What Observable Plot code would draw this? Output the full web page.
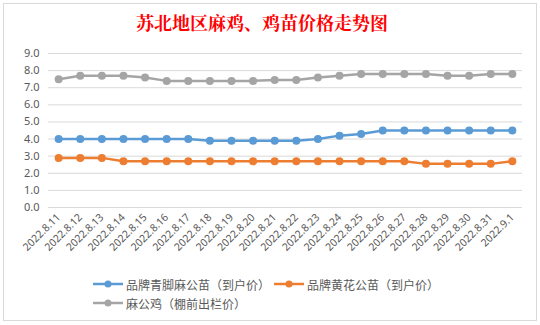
<!DOCTYPE html>
<html>
<head>
<meta charset="utf-8">
<script src="https://cdn.jsdelivr.net/npm/d3@7"></script>
<script src="https://cdn.jsdelivr.net/npm/@observablehq/plot@0.6"></script>
<style>
  html, body { margin: 0; padding: 0; background: #fff; }
  #wrap { position: relative; width: 540px; height: 325px; overflow: hidden; background: #fff; }
  #frame { position: absolute; left: 3px; top: 3px; width: 534px; height: 318px; border: 1px solid #d9d9d9; box-sizing: border-box; }
  #title { position: absolute; left: 0; width: 524px; top: 10px; text-align: center; color: #ff0000;
           font-family: "Noto Serif CJK SC", "Noto Sans CJK SC", serif; font-weight: bold; font-size: 18px; line-height: 24px; }
  #chart { position: absolute; left: 0; top: 0; }
  #legend { position: absolute; left: 93px; top: 275px; font-family: "Noto Sans CJK SC", sans-serif; font-size: 12px; color: #595959; }
  .item { position: absolute; white-space: nowrap; display: flex; align-items: center; height: 18px; }
  .item svg { margin-right: 3px; }
</style>
</head>
<body>
<div id="wrap">
  <div id="frame"></div>
  <div id="chart"></div>
  <div id="title">苏北地区麻鸡、鸡苗价格走势图</div>
  <div id="legend"></div>
</div>
<script>
const dates = ["2022.8.11","2022.8.12","2022.8.13","2022.8.14","2022.8.15","2022.8.16","2022.8.17","2022.8.18","2022.8.19","2022.8.20","2022.8.21","2022.8.22","2022.8.23","2022.8.24","2022.8.25","2022.8.26","2022.8.27","2022.8.28","2022.8.29","2022.8.30","2022.8.31","2022.9.1"];
const seriesNames = ["品牌青脚麻公苗（到户价）", "品牌黄花公苗（到户价）", "麻公鸡（棚前出栏价）"];
const blueValues   = [4.0,4.0,4.0,4.0,4.0,4.0,4.0,3.9,3.9,3.9,3.9,3.9,4.0,4.2,4.3,4.5,4.5,4.5,4.5,4.5,4.5,4.5];
const orangeValues = [2.9,2.9,2.9,2.7,2.7,2.7,2.7,2.7,2.7,2.7,2.7,2.7,2.7,2.7,2.7,2.7,2.7,2.55,2.55,2.55,2.55,2.7];
const grayValues   = [7.5,7.7,7.7,7.7,7.6,7.4,7.4,7.4,7.4,7.4,7.45,7.45,7.6,7.7,7.8,7.8,7.8,7.8,7.7,7.7,7.8,7.8];
const yTicks = [0,1,2,3,4,5,6,7,8,9];
const colors = ["#5B9BD5", "#ED7D31", "#A5A5A5"];

const allSeries = [blueValues, orangeValues, grayValues];
const data = [];
allSeries.forEach((vals, si) => vals.forEach((v, i) => data.push({date: dates[i], value: v, series: seriesNames[si]})));

const chart = Plot.plot({
  width: 540,
  height: 325,
  marginLeft: 48,
  marginRight: 18,
  marginTop: 53,
  marginBottom: 118,
  style: { fontFamily: "'Noto Sans', 'Noto Sans CJK SC', sans-serif", fontSize: "11px", color: "#595959", background: "transparent" },
  x: { type: "point", domain: dates, padding: 0.47, round: false, label: null },
  y: { domain: [0, 9], label: null },
  color: { domain: seriesNames, range: colors },
  marks: [
    Plot.ruleY(yTicks, { stroke: "#d9d9d9", strokeWidth: 1 }),
    Plot.axisY(yTicks, { tickSize: 0, tickPadding: 9, tickFormat: d3.format(".1f"), fill: "#595959", fontSize: 11 }),
    Plot.axisX({ tickSize: 0, tickRotate: -45, tickPadding: 8, fill: "#595959", fontSize: 10.5, label: null }),
    Plot.line(data, { x: "date", y: "value", z: "series", stroke: "series", strokeWidth: 2.5, strokeLinejoin: "round" }),
    Plot.dot(data, { x: "date", y: "value", fill: "series", r: 4, stroke: null })
  ]
});
document.getElementById("chart").appendChild(chart);

const legend = document.getElementById("legend");
const pos = [[0, 0], [181, 0], [0, 19]];
seriesNames.forEach((name, i) => {
  const it = document.createElement("div");
  it.className = "item";
  it.style.left = pos[i][0] + "px";
  it.style.top = pos[i][1] + "px";
  it.innerHTML = `<svg width="30" height="10"><line x1="0" y1="5" x2="30" y2="5" stroke="${colors[i]}" stroke-width="2.5"/><circle cx="15" cy="5" r="3.5" fill="${colors[i]}"/></svg><span>${name}</span>`;
  legend.appendChild(it);
});
</script>
</body>
</html>
